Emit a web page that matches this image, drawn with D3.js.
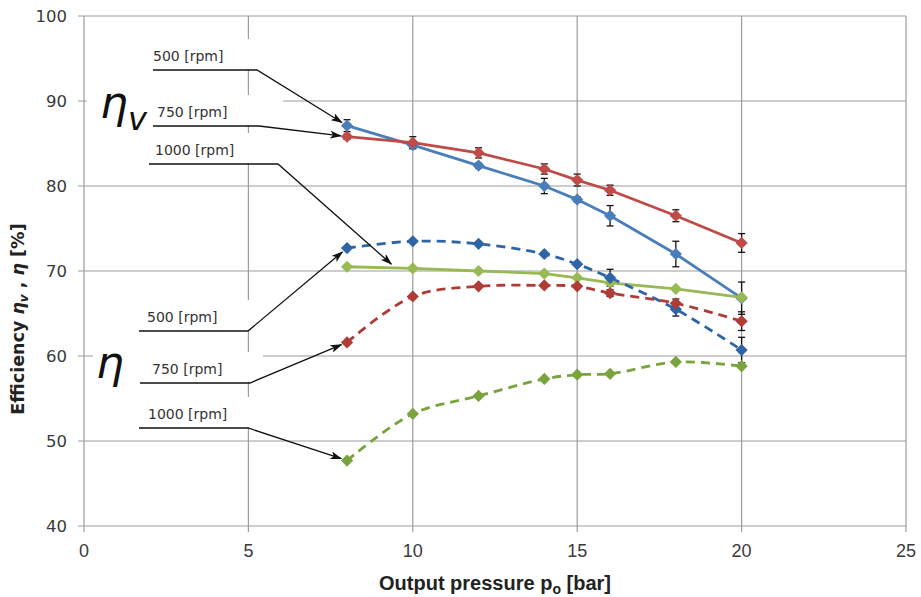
<!DOCTYPE html>
<html>
<head>
<meta charset="utf-8">
<script src="https://cdn.jsdelivr.net/npm/d3@7"></script>
<style>
  body { margin: 0; background: #fff; }
  #chart { width: 921px; height: 597px; }
  .grid line { stroke: #9c9c9c; stroke-width: 1.2; }
  .ytick text { font-family: "DejaVu Sans", sans-serif; font-size: 16.5px; fill: #3a3a3a; }
  .xtick text { font-family: "Liberation Sans Narrow", "Liberation Sans", sans-serif; font-size: 18px; fill: #3a3a3a; }
  .lbl { font-family: "DejaVu Sans", sans-serif; font-size: 14px; fill: #333; }
</style>
</head>
<body>
<div id="chart"></div>
<script>
//Datos
const pressure = [8, 10, 12, 14, 15, 16, 18, 20];

const etaV500  = [87.1, 84.8, 82.4, 80.0, 78.4, 76.5, 72.0, 66.8];
const etaV750  = [85.8, 85.1, 83.9, 82.0, 80.7, 79.5, 76.5, 73.3];
const etaV1000 = [70.5, 70.3, 70.0, 69.7, 69.2, 68.6, 67.9, 66.9];
const eta500   = [72.7, 73.5, 73.2, 72.0, 70.8, 69.2, 65.5, 60.7];
const eta750   = [61.6, 67.0, 68.2, 68.3, 68.2, 67.4, 66.2, 64.1];
const eta1000  = [47.7, 53.2, 55.3, 57.3, 57.8, 57.9, 59.3, 58.8];

//Barras de error (+/-)
const errV500  = [0.7, 0.4, 0.3, 0.9, 0.3, 1.2, 1.5, 1.9];
const errV750  = [0.3, 0.7, 0.6, 0.6, 0.7, 0.6, 0.7, 1.1];
const err500   = [0, 0, 0, 0, 0, 1.0, 0.8, 1.5];
const err750   = [0, 0, 0, 0, 0, 0.4, 0.5, 1.1];

const xTicks = [0, 5, 10, 15, 20, 25];
const yTicks = [40, 50, 60, 70, 80, 90, 100];

//Colores
const BLUE = '#4a7ebb', RED = '#be4b48', GREEN = '#98b954';
const BLUE_D = '#2f65a6', RED_D = '#b03c38', GREEN_D = '#79a33c';

const series = [
    {name: 'etaV500',  values: etaV500,  err: errV500, color: BLUE,    dashed: false},
    {name: 'etaV750',  values: etaV750,  err: errV750, color: RED,     dashed: false},
    {name: 'etaV1000', values: etaV1000, err: null,    color: GREEN,   dashed: false},
    {name: 'eta500',   values: eta500,   err: err500,  color: BLUE_D,  dashed: true},
    {name: 'eta750',   values: eta750,   err: err750,  color: RED_D,   dashed: true},
    {name: 'eta1000',  values: eta1000,  err: null,    color: GREEN_D, dashed: true}
];

let margin = {top: 16, right: 15, bottom: 71, left: 84},
    width = 921 - margin.left - margin.right,
    height = 597 - margin.top - margin.bottom;

let svg = d3.select('#chart')
    .append('svg')
        .attr('width', 921)
        .attr('height', 597)
    .append('g')
        .attr('transform', 'translate(' + margin.left + ',' + margin.top + ')');

let x = d3.scaleLinear().domain([0, 25]).range([0, width]);
let y = d3.scaleLinear().domain([40, 100]).range([height, 0]);

//Rejilla
let grid = svg.append('g').attr('class', 'grid');
grid.selectAll('.gx').data(xTicks).enter().append('line')
    .attr('x1', d => x(d)).attr('x2', d => x(d))
    .attr('y1', 0).attr('y2', height + 6);
grid.selectAll('.gy').data(yTicks).enter().append('line')
    .attr('x1', -6).attr('x2', width)
    .attr('y1', d => y(d)).attr('y2', d => y(d));

//Ejes
svg.append('g').attr('class', 'ytick')
    .selectAll('text').data(yTicks).enter().append('text')
    .attr('x', -17).attr('y', d => y(d)).attr('dy', '0.36em')
    .attr('text-anchor', 'end')
    .text(d => d);

svg.append('g').attr('class', 'xtick')
    .selectAll('text').data(xTicks).enter().append('text')
    .attr('x', d => x(d)).attr('y', height + 31)
    .attr('text-anchor', 'middle')
    .text(d => d);

//Cajas de texto (fondo blanco que tapa la rejilla)
const annots = [
    {label: '500 [rpm]',  x0: 153, x1: 257, ly: 70,  dx: 0,  box: 283, s: 0, i: 0},
    {label: '750 [rpm]',  x0: 153, x1: 259, ly: 126, dx: 4,  box: 283, s: 1, i: 0},
    {label: '1000 [rpm]', x0: 149, x1: 278, ly: 164, dx: 6,  box: 283, s: -1},
    {label: '500 [rpm]',  x0: 139, x1: 248, ly: 331, dx: 8,  box: 263, s: 3, i: 0},
    {label: '750 [rpm]',  x0: 140, x1: 250, ly: 383, dx: 12, box: 263, s: 4, i: 0},
    {label: '1000 [rpm]', x0: 139, x1: 248, ly: 428, dx: 9,  box: 263, s: 5, i: 0}
];
const off = {x: margin.left, y: margin.top};

let ann = d3.select('svg').append('g').attr('class', 'annot');
ann.selectAll('rect.bx').data(annots).enter().append('rect')
    .attr('x', d => d.x0 - 3).attr('y', d => d.ly - 31)
    .attr('width', d => d.box - d.x0 + 3).attr('height', 30)
    .attr('fill', '#fff');
ann.append('rect').attr('x', 87).attr('y', 84).attr('width', 66).attr('height', 52).attr('fill', '#fff');
ann.append('rect').attr('x', 93).attr('y', 348).attr('width', 50).attr('height', 48).attr('fill', '#fff');

//Líneas de datos
let lineStraight = d3.line().x(d => x(d[0])).y(d => y(d[1]));
let lineSmooth = d3.line().x(d => x(d[0])).y(d => y(d[1])).curve(d3.curveCatmullRom.alpha(0.5));

let plot = svg.append('g');
series.forEach(function(s) {
    let pts = pressure.map((p, i) => [p, s.values[i]]);
    plot.append('path')
        .datum(pts)
        .attr('fill', 'none')
        .attr('stroke', s.color)
        .attr('stroke-width', 2.8)
        .attr('stroke-dasharray', s.dashed ? '9,6' : null)
        .attr('d', s.dashed ? lineSmooth : lineStraight);
});

//Barras de error
series.forEach(function(s) {
    if (!s.err) return;
    let g = plot.append('g').attr('stroke', '#111').attr('stroke-width', 1.3);
    pressure.forEach(function(p, i) {
        let e = s.err[i];
        if (!e) return;
        let cx = x(p), top = y(s.values[i] + e), bot = y(s.values[i] - e);
        g.append('line').attr('x1', cx).attr('x2', cx).attr('y1', top).attr('y2', bot);
        g.append('line').attr('x1', cx - 3.5).attr('x2', cx + 3.5).attr('y1', top).attr('y2', top);
        g.append('line').attr('x1', cx - 3.5).attr('x2', cx + 3.5).attr('y1', bot).attr('y2', bot);
    });
});

//Marcadores
let diamond = d3.symbol().type(d3.symbolDiamond2).size(95);
series.forEach(function(s) {
    plot.append('g').selectAll('path')
        .data(pressure.map((p, i) => [p, s.values[i]]))
        .enter().append('path')
        .attr('d', diamond)
        .attr('transform', d => 'translate(' + x(d[0]) + ',' + y(d[1]) + ')')
        .attr('fill', s.color);
});

//Flechas
d3.select('svg').append('defs').append('marker')
    .attr('id', 'arrow')
    .attr('viewBox', '0 0 12 8')
    .attr('refX', 11).attr('refY', 4)
    .attr('markerWidth', 12).attr('markerHeight', 8)
    .attr('markerUnits', 'userSpaceOnUse')
    .attr('orient', 'auto')
    .append('path')
        .attr('d', 'M0,0 L12,4 L0,8 L3,4 Z')
        .attr('fill', '#111');

annots.forEach(function(a) {
    let tx, ty;
    if (a.s >= 0) {
        let s = series[a.s];
        tx = x(pressure[a.i]) + off.x;
        ty = y(s.values[a.i]) + off.y;
    } else {
        tx = x(9.35) + off.x;
        ty = y(70.8) + off.y;
    }
    //acortamos un poco para no tapar el marcador
    let dx = tx - a.x1, dy = ty - a.ly, len = Math.sqrt(dx * dx + dy * dy);
    let k = a.s >= 0 ? (len - 6) / len : 1;
    let ex = a.x1 + dx * k, ey = a.ly + dy * k;
    ann.append('path')
        .attr('d', 'M' + a.x0 + ',' + a.ly + 'L' + a.x1 + ',' + a.ly + 'L' + ex + ',' + ey)
        .attr('fill', 'none')
        .attr('stroke', '#111')
        .attr('stroke-width', 1.3)
        .attr('marker-end', 'url(#arrow)');
    ann.append('text')
        .attr('class', 'lbl')
        .attr('x', a.x0 + a.dx)
        .attr('y', a.ly - 9)
        .text(a.label);
});

//Símbolos grandes
let etaV = ann.append('text')
    .attr('x', 100).attr('y', 118)
    .style('font-family', '"DejaVu Sans", sans-serif')
    .style('font-style', 'italic')
    .style('font-size', '44px')
    .style('fill', '#111');
etaV.append('tspan').text('η');
etaV.append('tspan').attr('dy', 12).style('font-size', '32px').text('v');

ann.append('text')
    .attr('x', 96).attr('y', 378)
    .style('font-family', '"DejaVu Sans", sans-serif')
    .style('font-style', 'italic')
    .style('font-size', '44px')
    .style('fill', '#111')
    .text('η');

//Títulos de ejes
let yt = d3.select('svg').append('text')
    .attr('transform', 'translate(24,319) rotate(-90)')
    .attr('text-anchor', 'middle')
    .style('font-family', '"DejaVu Sans", sans-serif')
    .style('font-weight', 'bold')
    .style('font-size', '17.5px')
    .style('fill', '#222');
yt.append('tspan').text('Efficiency  ');
yt.append('tspan').style('font-style', 'italic').text('η');
yt.append('tspan').attr('dy', 4).style('font-size', '12px').style('font-style', 'italic').text('v');
yt.append('tspan').attr('dy', -4).text(' , ');
yt.append('tspan').style('font-style', 'italic').text('η');
yt.append('tspan').text(' [%]');

let xt = d3.select('svg').append('text')
    .attr('x', 495).attr('y', 590)
    .attr('text-anchor', 'middle')
    .style('font-family', '"Liberation Sans Narrow", "Liberation Sans", sans-serif')
    .style('font-weight', 'bold')
    .style('font-size', '20px')
    .style('fill', '#222');
xt.append('tspan').text('Output pressure p');
xt.append('tspan').attr('dy', 4).style('font-size', '14px').text('o');
xt.append('tspan').attr('dy', -4).text('  [bar]');
</script>
</body>
</html>
